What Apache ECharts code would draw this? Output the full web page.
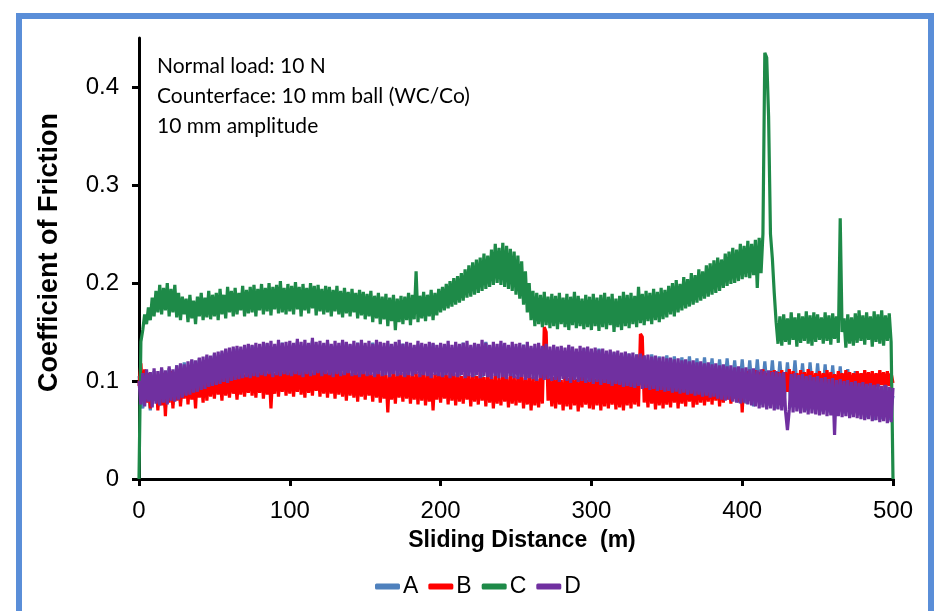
<!DOCTYPE html>
<html>
<head>
<meta charset="utf-8">
<script src="https://cdn.jsdelivr.net/npm/echarts@6/dist/echarts.min.js"></script>
<style>
html,body{margin:0;padding:0;background:#fff;}
#chart{width:938px;height:611px;}
</style>
</head>
<body>
<div id="chart"></div>
<script>
// Sampling steps of the sliding distance (m)
const STEP = 1.25;     // series B, C, D
const STEP_A = 2.5;    // series A
const seriesNames = ['A', 'B', 'C', 'D'];
const xTicks = [0, 100, 200, 300, 400, 500];
const yTicks = [0, 0.1, 0.2, 0.3, 0.4];

const A = [
0.105,0.072,0.108,0.070,0.110,0.074,0.112,0.072,0.113,0.076,
0.116,0.078,0.119,0.082,0.121,0.085,0.123,0.088,0.125,0.090,
0.127,0.094,0.129,0.096,0.131,0.098,0.133,0.100,0.134,0.102,
0.136,0.104,0.135,0.105,0.138,0.103,0.136,0.106,0.139,0.105,
0.137,0.106,0.140,0.104,0.138,0.107,0.141,0.105,0.137,0.106,
0.139,0.104,0.136,0.106,0.140,0.105,0.137,0.107,0.139,0.104,
0.136,0.105,0.139,0.106,0.137,0.104,0.138,0.107,0.136,0.105,
0.138,0.104,0.135,0.106,0.137,0.105,0.136,0.103,0.138,0.105,
0.135,0.104,0.137,0.103,0.136,0.105,0.139,0.104,0.135,0.103,
0.137,0.102,0.140,0.104,0.136,0.103,0.138,0.102,0.136,0.104,
0.135,0.101,0.137,0.103,0.134,0.100,0.136,0.102,0.133,0.101,
0.134,0.099,0.132,0.101,0.135,0.100,0.131,0.099,0.133,0.098,
0.131,0.097,0.133,0.099,0.130,0.096,0.129,0.098,0.128,0.095,
0.128,0.094,0.127,0.096,0.126,0.093,0.127,0.092,0.125,0.091,
0.126,0.090,0.125,0.089,0.124,0.087,0.125,0.086,0.123,0.085,
0.124,0.084,0.123,0.083,0.122,0.081,0.123,0.080,0.121,0.078,
0.122,0.077,0.121,0.074,0.122,0.076,0.120,0.075,0.121,0.072,
0.120,0.074,0.119,0.073,0.121,0.072,0.118,0.070,0.119,0.071,
0.118,0.069,0.117,0.068,0.116,0.067,0.115,0.067,0.112,0.066,
0.110,0.065,0.108,0.063,0.106,0.060,0.105,0.061,0.104,0.060,
0.085
];

const B = [
0.095,0.118,0.084,0.112,0.078,0.108,0.072,0.104,0.080,0.106,0.070,0.102,0.075,0.108,0.064,0.105,0.078,0.110,0.072,0.106,
0.080,0.108,0.074,0.104,0.082,0.110,0.076,0.106,0.081,0.103,0.072,0.109,0.083,0.105,0.078,0.111,0.080,0.104,0.084,0.108,
0.082,0.110,0.086,0.106,0.080,0.112,0.085,0.108,0.083,0.111,0.087,0.105,0.081,0.109,0.086,0.112,0.084,0.107,0.088,0.110,
0.085,0.113,0.083,0.109,0.088,0.114,0.082,0.110,0.086,0.112,0.072,0.108,0.087,0.115,0.084,0.111,0.089,0.113,0.085,0.110,
0.087,0.114,0.084,0.111,0.089,0.116,0.086,0.112,0.083,0.114,0.088,0.110,0.085,0.113,0.090,0.115,0.084,0.111,0.087,0.112,
0.083,0.112,0.087,0.110,0.082,0.114,0.086,0.109,0.084,0.113,0.080,0.111,0.085,0.108,0.083,0.112,0.079,0.110,0.084,0.109,
0.081,0.110,0.085,0.107,0.079,0.111,0.083,0.108,0.078,0.109,0.082,0.106,0.068,0.110,0.081,0.107,0.077,0.109,0.083,0.108,
0.079,0.108,0.082,0.110,0.077,0.106,0.081,0.109,0.076,0.107,0.080,0.110,0.075,0.106,0.079,0.108,0.070,0.107,0.081,0.109,
0.078,0.108,0.082,0.106,0.076,0.110,0.080,0.107,0.075,0.109,0.079,0.105,0.077,0.108,0.081,0.106,0.074,0.107,0.079,0.105,
0.076,0.108,0.080,0.104,0.074,0.107,0.078,0.105,0.072,0.106,0.077,0.103,0.075,0.107,0.079,0.104,0.073,0.106,0.077,0.105,
0.075,0.104,0.078,0.107,0.072,0.103,0.076,0.106,0.070,0.104,0.075,0.102,0.073,0.106,0.077,0.155,0.150,0.080,0.103,0.074,
0.104,0.072,0.106,0.076,0.101,0.070,0.105,0.074,0.103,0.071,0.106,0.075,0.102,0.069,0.104,0.073,0.105,0.076,0.101,0.072,
0.104,0.071,0.102,0.075,0.106,0.070,0.103,0.074,0.105,0.072,0.101,0.076,0.104,0.071,0.102,0.073,0.105,0.070,0.103,0.075,
0.104,0.072,0.106,0.076,0.103,0.074,0.148,0.145,0.078,0.104,0.073,0.105,0.077,0.102,0.071,0.104,0.075,0.106,0.072,0.103,
0.076,0.104,0.073,0.106,0.078,0.103,0.072,0.105,0.077,0.102,0.074,0.106,0.079,0.104,0.073,0.105,0.076,0.103,0.078,0.106,
0.075,0.104,0.079,0.107,0.076,0.105,0.080,0.108,0.074,0.106,0.078,0.107,0.081,0.105,0.077,0.108,0.082,0.106,0.079,0.109,
0.068,0.108,0.083,0.110,0.080,0.107,0.085,0.111,0.082,0.109,0.086,0.112,0.084,0.108,0.087,0.110,0.083,0.111,0.086,0.109,
0.088,0.111,0.085,0.109,0.089,0.112,0.086,0.110,0.090,0.108,0.087,0.111,0.089,0.109,0.086,0.112,0.090,0.110,0.088,0.108,
0.089,0.110,0.091,0.108,0.088,0.111,0.092,0.109,0.089,0.107,0.091,0.110,0.093,0.108,0.090,0.111,0.092,0.109,0.089,0.108,
0.092,0.110,0.094,0.108,0.091,0.111,0.093,0.109,0.095,0.110,0.092,0.108,0.094,0.111,0.096,0.109,0.093,0.110,0.095,0.108,
0.098
];

const C = [
0.000,0.140,0.152,0.168,0.158,0.175,0.162,0.185,0.166,0.192,0.170,0.198,0.168,0.195,0.172,0.200,0.166,0.194,0.170,0.198,
0.165,0.190,0.162,0.186,0.168,0.184,0.160,0.188,0.164,0.182,0.158,0.186,0.166,0.190,0.162,0.185,0.165,0.192,0.163,0.188,
0.166,0.190,0.162,0.194,0.168,0.188,0.164,0.196,0.170,0.192,0.166,0.195,0.168,0.190,0.172,0.197,0.166,0.193,0.169,0.196,
0.170,0.198,0.166,0.194,0.172,0.199,0.168,0.195,0.171,0.200,0.167,0.196,0.173,0.198,0.169,0.202,0.170,0.195,0.168,0.199,
0.171,0.197,0.168,0.201,0.173,0.196,0.166,0.199,0.172,0.195,0.169,0.200,0.174,0.197,0.167,0.198,0.171,0.194,0.168,0.197,
0.170,0.196,0.166,0.193,0.171,0.197,0.168,0.192,0.165,0.195,0.169,0.191,0.166,0.194,0.170,0.190,0.164,0.193,0.167,0.191,
0.163,0.189,0.166,0.192,0.160,0.187,0.164,0.190,0.158,0.186,0.163,0.189,0.156,0.185,0.161,0.188,0.152,0.184,0.160,0.187,
0.158,0.186,0.162,0.190,0.157,0.188,0.163,0.212,0.160,0.187,0.164,0.191,0.161,0.188,0.166,0.193,0.162,0.190,0.167,0.194,
0.170,0.196,0.172,0.199,0.174,0.202,0.176,0.205,0.178,0.207,0.180,0.210,0.182,0.214,0.185,0.218,0.186,0.221,0.188,0.224,
0.190,0.226,0.192,0.230,0.194,0.228,0.196,0.234,0.198,0.240,0.200,0.236,0.198,0.241,0.196,0.238,0.194,0.235,0.192,0.232,
0.188,0.228,0.184,0.222,0.178,0.212,0.170,0.200,0.162,0.192,0.156,0.190,0.158,0.188,0.155,0.191,0.157,0.186,0.154,0.189,
0.156,0.187,0.153,0.190,0.158,0.185,0.155,0.189,0.152,0.186,0.157,0.191,0.154,0.187,0.156,0.184,0.153,0.188,0.155,0.186,
0.152,0.189,0.156,0.185,0.151,0.188,0.155,0.190,0.153,0.186,0.157,0.189,0.150,0.184,0.155,0.187,0.152,0.191,0.156,0.188,
0.154,0.190,0.158,0.187,0.155,0.196,0.159,0.189,0.157,0.192,0.161,0.190,0.158,0.194,0.162,0.191,0.160,0.195,0.163,0.193,
0.165,0.197,0.168,0.200,0.166,0.203,0.170,0.199,0.172,0.206,0.174,0.204,0.176,0.210,0.178,0.208,0.180,0.214,0.182,0.212,
0.184,0.218,0.186,0.220,0.188,0.223,0.190,0.226,0.192,0.224,0.195,0.230,0.197,0.232,0.199,0.236,0.200,0.234,0.202,0.240,
0.204,0.238,0.206,0.243,0.205,0.240,0.208,0.244,0.195,0.246,0.210,0.250,0.435,0.430,0.370,0.250,0.225,0.190,0.160,0.138,
0.166,0.136,0.168,0.140,0.164,0.137,0.170,0.142,0.165,0.135,0.169,0.139,0.166,0.141,0.171,0.138,0.167,0.136,0.170,0.140,
0.168,0.142,0.165,0.138,0.170,0.141,0.167,0.137,0.169,0.143,0.166,0.139,0.266,0.150,0.164,0.134,0.168,0.138,0.165,0.136,
0.169,0.139,0.172,0.141,0.167,0.137,0.170,0.142,0.166,0.135,0.171,0.140,0.168,0.138,0.172,0.136,0.167,0.141,0.169,0.140,
0.000
];

const D = [
0.100,0.076,0.108,0.074,0.112,0.079,0.109,0.073,0.113,0.077,0.110,0.075,0.114,0.078,0.111,0.076,0.115,0.080,0.112,0.079,
0.116,0.081,0.118,0.083,0.117,0.085,0.120,0.086,0.122,0.088,0.121,0.089,0.124,0.091,0.125,0.092,0.127,0.094,0.126,0.095,
0.129,0.096,0.130,0.097,0.131,0.099,0.133,0.098,0.134,0.100,0.135,0.101,0.136,0.102,0.135,0.103,0.137,0.104,0.138,0.103,
0.137,0.105,0.139,0.104,0.138,0.106,0.140,0.105,0.139,0.107,0.141,0.104,0.138,0.106,0.142,0.105,0.139,0.107,0.140,0.106,
0.141,0.105,0.139,0.107,0.143,0.106,0.140,0.104,0.142,0.107,0.139,0.105,0.144,0.106,0.140,0.108,0.141,0.105,0.139,0.107,
0.142,0.106,0.138,0.104,0.141,0.107,0.139,0.105,0.142,0.106,0.140,0.108,0.138,0.105,0.141,0.106,0.139,0.104,0.142,0.107,
0.139,0.105,0.141,0.106,0.138,0.104,0.142,0.107,0.140,0.105,0.139,0.106,0.141,0.104,0.138,0.107,0.140,0.105,0.142,0.106,
0.138,0.104,0.140,0.106,0.139,0.105,0.137,0.107,0.141,0.104,0.139,0.106,0.138,0.105,0.140,0.103,0.139,0.106,0.137,0.105,
0.139,0.104,0.138,0.106,0.141,0.103,0.137,0.105,0.140,0.104,0.138,0.106,0.139,0.103,0.141,0.105,0.137,0.104,0.139,0.106,
0.138,0.103,0.142,0.105,0.139,0.104,0.137,0.102,0.140,0.105,0.138,0.103,0.141,0.104,0.139,0.102,0.137,0.105,0.140,0.103,
0.138,0.102,0.139,0.104,0.137,0.101,0.140,0.103,0.136,0.102,0.138,0.100,0.139,0.103,0.136,0.101,0.138,0.102,0.135,0.100,
0.137,0.101,0.135,0.099,0.136,0.102,0.134,0.100,0.137,0.098,0.135,0.101,0.133,0.099,0.136,0.100,0.134,0.098,0.135,0.099,
0.133,0.097,0.134,0.099,0.132,0.096,0.133,0.098,0.131,0.097,0.132,0.095,0.130,0.097,0.131,0.096,0.129,0.094,0.130,0.095,
0.128,0.094,0.129,0.093,0.127,0.095,0.128,0.092,0.126,0.093,0.127,0.091,0.125,0.092,0.126,0.090,0.124,0.091,0.125,0.089,
0.123,0.090,0.124,0.088,0.122,0.089,0.123,0.087,0.121,0.088,0.122,0.086,0.120,0.087,0.121,0.085,0.119,0.086,0.120,0.084,
0.118,0.085,0.119,0.083,0.117,0.084,0.118,0.082,0.116,0.081,0.117,0.080,0.115,0.081,0.116,0.079,0.114,0.078,0.115,0.077,
0.113,0.078,0.114,0.076,0.112,0.075,0.113,0.074,0.111,0.072,0.112,0.073,0.110,0.071,0.111,0.072,0.109,0.070,0.110,0.071,
0.108,0.070,0.109,0.069,0.050,0.071,0.107,0.068,0.108,0.069,0.106,0.067,0.107,0.068,0.105,0.066,0.106,0.067,0.104,0.066,
0.105,0.065,0.103,0.066,0.104,0.064,0.102,0.065,0.103,0.045,0.101,0.064,0.102,0.063,0.100,0.064,0.101,0.062,0.099,0.063,
0.100,0.062,0.098,0.061,0.099,0.060,0.097,0.061,0.098,0.059,0.096,0.060,0.097,0.058,0.095,0.059,0.096,0.057,0.094,0.058,
0.093
];

const colors = ['#4F81BD', '#FF0000', '#1E8A48', '#7030A0'];
const annotations = ['Normal load: 10 N', 'Counterface: 10 mm ball (WC/Co)', '10 mm amplitude'];

function pairs(vals, step) {
  return vals.map((v, i) => [i * step, v]);
}

const chart = echarts.init(document.getElementById('chart'), null, {renderer: 'canvas'});
const allVals = [A, B, C, D];
const steps = [STEP_A, STEP, STEP, STEP];
const FONT = 'Liberation Sans, Arial';

chart.setOption({
  animation: false,
  backgroundColor: '#fff',
  color: colors,
  grid: {left: 139, right: 45, top: 38, bottom: 132, containLabel: false},
  legend: {
    bottom: 8,
    left: 370,
    itemWidth: 25,
    itemHeight: 6,
    itemGap: 10,
    icon: 'roundRect',
    textStyle: {fontFamily: FONT, fontSize: 23, color: '#000', padding: [0, 0, 0, -2]},
    data: seriesNames
  },
  xAxis: {
    type: 'value',
    min: 0, max: 500, interval: 100,
    name: 'Sliding Distance  (m)',
    nameLocation: 'middle',
    nameGap: 50,
    nameTextStyle: {fontFamily: FONT, fontWeight: 'bold', fontSize: 23, color: '#000', padding: [0, 0, 0, 12]},
    axisLine: {lineStyle: {color: '#000', width: 3}},
    axisTick: {show: true, length: 7, inside: false, lineStyle: {color: '#000', width: 3}},
    axisLabel: {fontFamily: FONT, fontSize: 24, color: '#000', margin: 20, customValues: xTicks},
    splitLine: {show: false}
  },
  yAxis: {
    type: 'value',
    min: 0, max: 0.45, interval: 0.1,
    name: 'Coefficient of Friction',
    nameLocation: 'middle',
    nameGap: 76,
    nameTextStyle: {fontFamily: FONT, fontWeight: 'bold', fontSize: 27, color: '#000', padding: [0, 0, 0, 12]},
    axisLine: {show: true, lineStyle: {color: '#000', width: 3}},
    axisTick: {show: true, length: 7, inside: false, lineStyle: {color: '#000', width: 3}, customValues: yTicks},
    axisLabel: {fontFamily: FONT, fontSize: 24, color: '#000', margin: 20, customValues: yTicks,
      formatter: v => String(Math.round(v * 10) / 10)},
    splitLine: {show: false}
  },
  graphic: [
    {type: 'rect', silent: true, z: 100,
     shape: {x: 19, y: 16, width: 912, height: 640},
     style: {fill: 'none', stroke: '#5A8ED8', lineWidth: 6}},
    {type: 'text', left: 157, top: 51, z: 100,
     style: {text: annotations.join('\n'), fontFamily: 'Lato', fontSize: 21, lineHeight: 30, fill: '#000'}}
  ],
  series: seriesNames.map((n, k) => ({
    name: n,
    type: 'line',
    data: pairs(allVals[k], steps[k]),
    symbol: 'none',
    showSymbol: false,
    lineStyle: {width: 3.2, color: colors[k]},
    itemStyle: {color: colors[k]},
    z: 2 + k
  }))
});
</script>
</body>
</html>
